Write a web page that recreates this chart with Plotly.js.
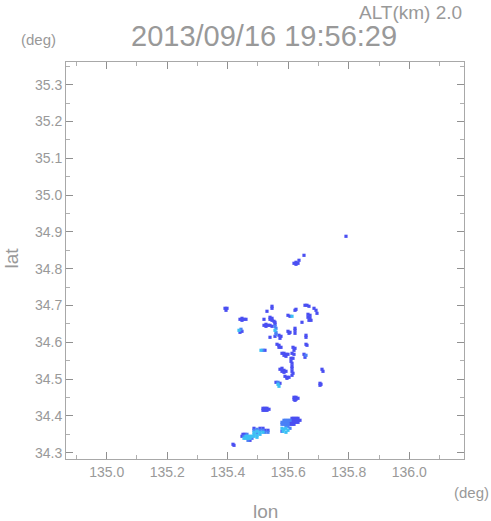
<!DOCTYPE html>
<html>
<head>
<meta charset="utf-8">
<script src="https://cdn.plot.ly/plotly-3.0.1.min.js"></script>
<style>html,body{margin:0;padding:0;background:#fff;}#chart{width:491px;height:521px;}</style>
</head>
<body>
<div id="chart"></div>
<script>
// Echo cells, level 1 (blue)
const lonBlue = [135.7908,135.652,135.6355,135.619,135.6256,135.6322,135.6256,
135.391,135.3976,135.3943,
135.4405,135.4471,135.4537,135.4603,135.4471,
135.4405,135.4471,
135.5463,135.5463,135.5297,135.5198,
135.5397,135.5463,135.5463,135.5529,135.5397,
135.5198,135.5264,135.533,135.5397,135.5463,135.5264,
135.5562,135.5562,135.5562,
135.5694,135.576,135.5727,135.5397,
135.5628,135.5694,135.576,135.5694,135.5231,
135.5793,135.5859,135.5925,135.5991,135.5859,135.5925,
135.6091,135.6157,135.6157,135.6223,135.619,135.6124,135.619,
135.6091,135.6124,135.6124,135.6124,
135.5727,135.5793,135.5859,135.5925,135.5793,135.5859,
135.6124,135.6157,135.5892,135.5958,135.6025,135.5958,135.6124,
135.5595,135.5727,
135.5991,135.6058,135.6223,135.6256,
135.5991,135.6058,135.6025,135.6223,135.6223,135.6223,
135.6553,135.6619,135.6685,135.6851,135.6917,
135.6652,135.6719,135.6652,135.6719,135.6685,135.6752,
135.6586,135.6586,135.6586,135.6619,135.652,135.6553,
135.6454,135.695,135.7115,135.7148,135.7049,135.7049,135.7082,
135.619,135.6256,135.6322,135.6256,135.619,
135.5165,135.5231,135.5297,135.5364,135.5231,135.5297,135.5165,
135.6124,135.619,135.6256,135.6322,
135.6124,135.619,135.6256,135.6322,135.6388,
135.6058,135.6124,135.619,135.6256,135.6322,
135.6058,135.6124,135.619,
135.4174,135.4207,135.6223,
135.4868,135.5066,135.5165,135.4504,135.457,135.4471,135.4736,135.533,135.5231,
135.5793];
const latBlue = [34.8878,34.8361,34.8226,34.8144,34.8171,34.8144,34.8117,
34.6921,34.6921,34.6867,
34.6622,34.6649,34.6622,34.6622,34.6595,
34.6269,34.6296,
34.6976,34.6921,34.684,34.6622,
34.6677,34.6649,34.6595,34.6568,34.6622,
34.6459,34.6486,34.6459,34.6459,34.6432,34.6432,
34.6541,34.6486,34.616,
34.6188,34.616,34.6106,34.6133,
34.5943,34.5916,34.5861,34.5861,34.578,
34.5698,34.5698,34.5671,34.5671,34.5644,34.5617,
34.5563,34.5563,34.5861,34.5834,34.578,34.5698,34.5671,
34.5481,34.5427,34.5345,34.5291,
34.5264,34.5291,34.5236,34.5209,34.5209,34.5182,
34.5209,34.5155,34.5073,34.5046,34.5046,34.5019,34.5101,
34.491,34.4883,
34.6731,34.6704,34.6867,34.6894,
34.6296,34.6269,34.6242,34.6378,34.6323,34.6242,
34.7003,34.7003,34.6976,34.6921,34.6867,
34.6758,34.6731,34.6677,34.6649,34.6595,34.6595,
34.6188,34.6133,34.5943,34.5916,34.5671,34.559,
34.6541,34.6785,34.5264,34.5209,34.4883,34.4829,34.4856,
34.4503,34.4503,34.4476,34.4448,34.4448,
34.4204,34.4204,34.4204,34.4177,34.4149,34.4149,34.4149,
34.3932,34.3932,34.3932,34.3932,
34.3878,34.3878,34.3878,34.3878,34.3878,
34.3823,34.3823,34.3823,34.3823,34.3823,
34.3769,34.3769,34.3769,
34.3226,34.3198,34.4421,
34.366,34.366,34.366,34.3497,34.3497,34.3443,34.3334,34.3606,34.3606,
34.3579];
// Echo cells, level 2 (light blue)
const lonLight = [135.4438,135.5562,135.5595,135.5595,135.5595,135.5165,135.5661,135.6586,
135.5859,135.5925,135.5991,135.6058,135.5793,135.5859,135.5925,135.5991,
135.5793,135.5859,135.5925,135.5991,135.5925,135.5991,135.6058,
135.4967,135.4868,135.5066,135.5165,135.4636,135.4537,135.4802,135.467,135.5231,135.533,135.4967];
const latLight = [34.6351,34.6432,34.6378,34.6269,34.6215,34.578,34.491,34.5644,
34.3878,34.3878,34.3878,34.3878,34.3823,34.3823,34.3823,34.3823,
34.3769,34.3769,34.3769,34.3769,34.3715,34.3715,34.366,
34.3633,34.3606,34.3606,34.3606,34.3497,34.3443,34.3389,34.3334,34.3552,34.3552,34.3524];
// Echo cells, level 3 (cyan)
const lonCyan = [135.4372,135.5562,135.5099,135.5661,135.5694,135.6124,
135.5793,135.5859,135.5925,135.5991,135.5826,135.5925,
135.4868,135.4868,135.4967,135.4967,135.5066,135.5066,135.5165,
135.4603,135.467,135.4736,135.4802,135.4537,135.4603,135.467,135.4736,135.4868,135.4967];
const latCyan = [34.6323,34.6323,34.578,34.4856,34.4802,34.6704,
34.366,34.3633,34.366,34.3606,34.3579,34.3552,
34.3552,34.3497,34.3579,34.347,34.3552,34.3497,34.3552,
34.3443,34.3443,34.3443,34.3443,34.3389,34.3389,34.3389,34.3389,34.3443,34.3416];

const xTickVals = [135.0,135.2,135.4,135.6,135.8,136.0];
const yTickVals = [34.3,34.4,34.5,34.6,34.7,34.8,34.9,35.0,35.1,35.2,35.3];
const titleText = "2013/09/16 19:56:29";
const altText = "ALT(km) 2.0";

function cells(x, y, color) {
  return {type:'scatter', mode:'markers', x:x, y:y, hoverinfo:'skip',
    marker:{symbol:'square', size:3.2, color:color, line:{width:0}}};
}
const data = [
  cells(lonBlue, latBlue, '#4a4ff2'),
  cells(lonLight, latLight, '#4a80f6'),
  cells(lonCyan, latCyan, '#3cc0f4')
];
const txtColor = '#999999';
const tickFont = {family:'"Liberation Sans Narrow", "Liberation Sans", Arial, sans-serif', size:14, color:txtColor};
const axisCommon = {
  showgrid:false, zeroline:false, showline:true, mirror:'ticks', linecolor:'#a8a8a8', linewidth:1,
  ticks:'inside', ticklen:7, tickwidth:1, tickcolor:'#909090', tickfont:tickFont, tickformat:'.1f',
  fixedrange:true
};
const layout = {
  width:491, height:521, paper_bgcolor:'#fff', plot_bgcolor:'#fff', showlegend:false,
  margin:{l:66, r:27, t:62, b:62},
  xaxis: Object.assign({}, axisCommon, {range:[134.8655,136.1808], tickvals:xTickVals,
    minor:{ticks:'inside', ticklen:4, dtick:0.1, tick0:134.9, tickcolor:'#b0b0b0'}}),
  yaxis: Object.assign({}, axisCommon, {range:[34.2826,35.3614], tickvals:yTickVals,
    minor:{ticks:'inside', ticklen:4, dtick:0.05, tick0:34.25, tickcolor:'#b0b0b0'}}),
  annotations:[
    {text:titleText, xref:'paper', yref:'paper', x:0.5, y:1, xshift:-1, yshift:26, xanchor:'center', yanchor:'middle', showarrow:false,
      font:{family:'"Liberation Sans", Arial, sans-serif', size:29, color:txtColor}},
    {text:altText, xref:'paper', yref:'paper', x:1, y:1, yshift:50, xanchor:'right', yanchor:'middle', showarrow:false,
      font:{family:'"Liberation Sans", Arial, sans-serif', size:19, color:txtColor}},
    {text:'(deg)', xref:'paper', yref:'paper', x:0, y:1, xshift:-28, yshift:23, xanchor:'center', yanchor:'middle', showarrow:false,
      font:{family:'"Liberation Sans", Arial, sans-serif', size:15, color:txtColor}},
    {text:'(deg)', xref:'paper', yref:'paper', x:1, y:0, xshift:7, yshift:-33, xanchor:'center', yanchor:'middle', showarrow:false,
      font:{family:'"Liberation Sans", Arial, sans-serif', size:15, color:txtColor}},
    {text:'lon', xref:'paper', yref:'paper', x:0.5, y:0, yshift:-52, xanchor:'center', yanchor:'middle', showarrow:false,
      font:{family:'"Liberation Sans", Arial, sans-serif', size:19, color:txtColor}},
    {text:'lat', xref:'paper', yref:'paper', x:0, y:0.5, xshift:-55, yshift:2, textangle:-90, xanchor:'center', yanchor:'middle', showarrow:false,
      font:{family:'"Liberation Sans", Arial, sans-serif', size:19, color:txtColor}}
  ]
};
Plotly.newPlot('chart', data, layout, {displayModeBar:false, staticPlot:true});
</script>
</body>
</html>
